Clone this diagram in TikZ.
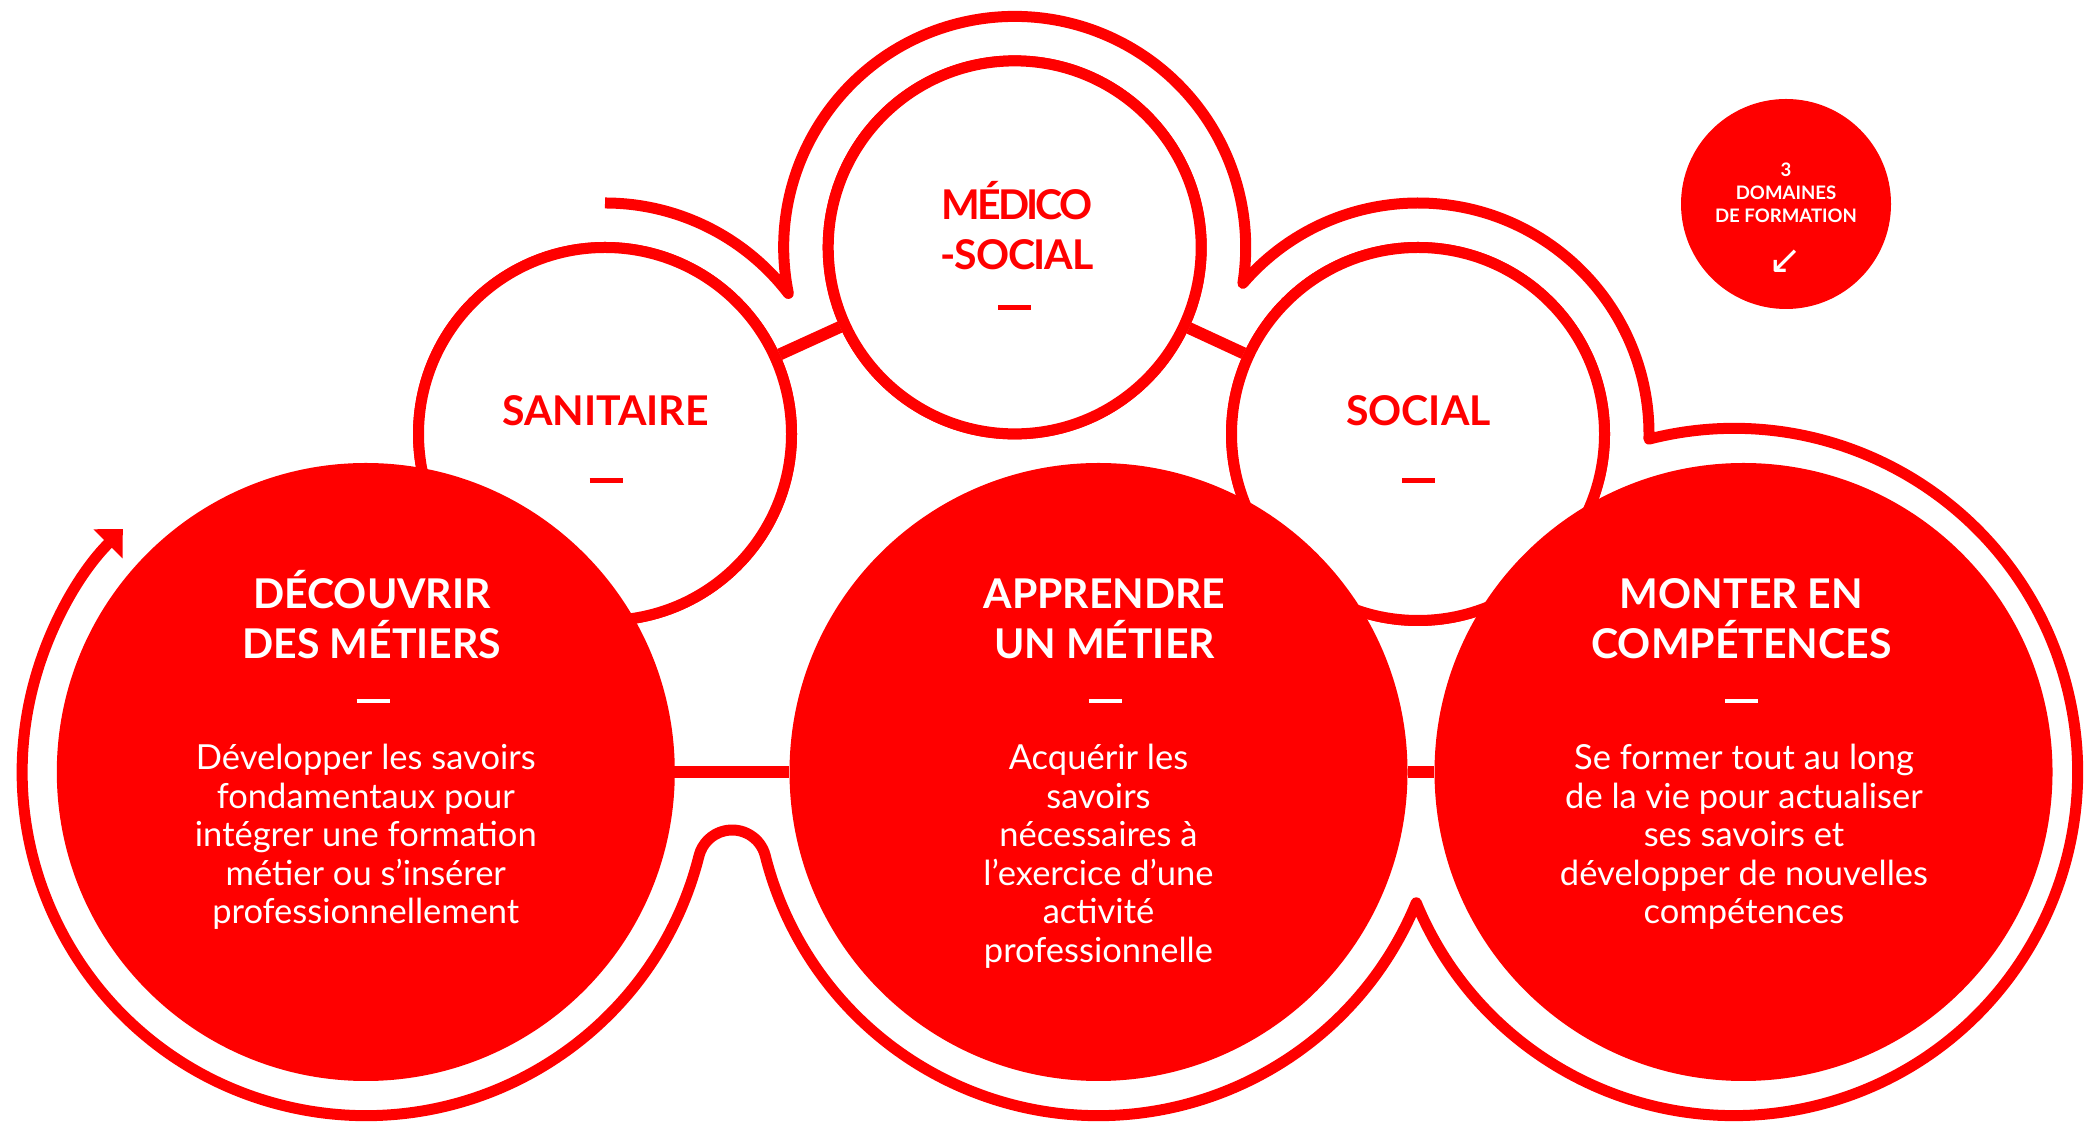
\documentclass[tikz,border=0pt]{standalone}
\usepackage{fontspec}
\setmainfont{Lato}
\newfontfamily\arrowfont{DejaVu Sans}
\usetikzlibrary{calc,arrows.meta}
\definecolor{brand}{HTML}{FF0000}
\newcommand\topstrut[1]{\rule{0pt}{#1}}
\begin{document}
\begin{tikzpicture}[x=1pt,y=1pt,
  bigc/.style={circle,fill=brand,minimum size=618pt,inner sep=0pt},
  smallc/.style={circle,draw=brand,fill=white,line width=11pt,minimum size=373pt,inner sep=0pt},
  badge/.style={circle,fill=brand,minimum size=210pt,inner sep=0pt},
  deco/.style={draw=brand,line width=11pt,line join=round,line cap=butt},
  bar/.style={draw=brand,line width=12pt},
  head/.style={text=white,font=\bfseries\fontsize{41}{50}\selectfont,align=center,inner sep=0pt,anchor=north},
  body/.style={text=white,font=\fontsize{34.5}{38.6}\selectfont,align=center,inner sep=0pt,anchor=north},
  stitle/.style={text=brand,font=\bfseries\fontsize{41}{50}\selectfont,align=center,inner sep=0pt},
  wdash/.style={text=white,inner sep=0pt},
  rdash/.style={text=brand,inner sep=0pt},
  badgetxt/.style={text=white,font=\bfseries\fontsize{18.6}{23}\selectfont,align=center,inner sep=0pt,anchor=north}
]
\useasboundingbox (0,0) rectangle (2084,1121);

% small circles (domains)
\node[smallc] (san) at (605,687) {};
\node[smallc] (med) at (1014.7,873.6) {};
\node[smallc] (soc) at (1418,687) {};
\coordinate (bump) at (732.15,256.8);
\coordinate (ringL) at (365.8,349);
\coordinate (ringM) at (1098.5,349);
\coordinate (ringR) at (1734,349);

% outer decorative path
\path[deco,-{Triangle[length=21pt,width=40pt]}]
  ($(san.center)+(90:231)$) arc[start angle=90,end angle=37.47,radius=231]
  -- ($(med.center)+(191.5:231)$) arc[start angle=191.5,end angle=-8.94,radius=231]
  -- ($(soc.center)+(139.28:231)$) arc[start angle=139.28,end angle=-1.24,radius=231]
  -- ($(ringR)+(104.32:343.6)$) arc[start angle=104.32,end angle=-157.63,radius=343.6]
  -- ($(ringM)+(-22.37:343.6)$) arc[start angle=-22.37,end angle=-165.87,radius=343.6]
  -- ($(bump)+(14.13:34.2)$) arc[start angle=14.13,end angle=165.87,radius=34.2]
  -- ($(ringL)+(-14.13:343.6)$) arc[start angle=-14.13,end angle=-225,radius=343.6];

% links between small circles
\draw[bar] (san) -- (med);
\draw[bar] (med) -- (soc);
\node[smallc] at (san) {};
\node[smallc] at (med) {};
\node[smallc] at (soc) {};

% big circles
\node[bigc] (dec) at (365.8,349) {};
\node[bigc] (app) at (1098.5,349) {};
\node[bigc] (mon) at (1743.5,349) {};
\draw[bar] (dec.east) -- (app.west);
\draw[bar] (app.east) -- (mon.west);

% badge
\node[badge] (dom) at (1786,917) {};
\node[badgetxt] (domT) at (1786,964.3) {\topstrut{20pt}3\\DOMAINES\\DE FORMATION};
\node[text=white,inner sep=0pt,font=\arrowfont\fontsize{40}{44}\selectfont] (domA) at (1785,859.3) {↙};

% small circle titles
\node[stitle,anchor=base] (sanT) at (605.3,695.3) {SANITAIRE};
\node[rdash] (sanD) at (606,640.5) {\rule{33pt}{5pt}};
\node[stitle,anchor=north] (medT) at (1017,947) {\topstrut{45pt}{\addfontfeature{LetterSpace=-7}MÉDICO}\\{\addfontfeature{LetterSpace=-3}-SOCIAL}};
\node[rdash] (medD) at (1014.7,813.5) {\rule{33pt}{5pt}};
\node[stitle,anchor=base] (socT) at (1418.4,695.3) {SOCIAL};
\node[rdash] (socD) at (1418.4,640.5) {\rule{33pt}{5pt}};

% big circle texts
\node[head] (decT) at (372,558) {\topstrut{45pt}DÉCOUVRIR\\DES MÉTIERS};
\node[wdash] (decD) at (373,420) {\rule{33pt}{4.5pt}};
\node[body] (decB) at (365.8,386.9) {\topstrut{35.2pt}Développer les savoirs\\fondamentaux pour\\intégrer une formation\\métier ou s’insérer\\professionnellement};

\node[head] (appT) at (1104.5,558) {\topstrut{45pt}APPRENDRE\\UN MÉTIER};
\node[wdash] (appD) at (1105,420) {\rule{33pt}{4.5pt}};
\node[body] (appB) at (1098.5,386.9) {\topstrut{35.2pt}Acquérir les\\savoirs\\nécessaires à\\l’exercice d’une\\activité\\professionnelle};

\node[head] (monT) at (1741.5,558) {\topstrut{45pt}MONTER EN\\COMPÉTENCES};
\node[wdash] (monD) at (1741.5,420) {\rule{33pt}{4.5pt}};
\node[body] (monB) at (1744,386.9) {\topstrut{35.2pt}Se former tout au long\\de la vie pour actualiser\\ses savoirs et\\développer de nouvelles\\compétences};
\end{tikzpicture}
\end{document}
